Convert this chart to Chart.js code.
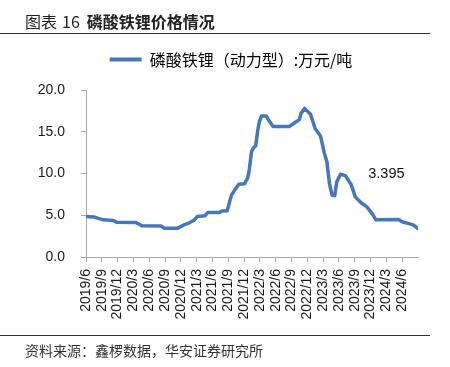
<!DOCTYPE html>
<html><head><meta charset="utf-8">
<script src="https://cdn.jsdelivr.net/npm/chart.js@4"></script>
<style>
html,body{margin:0;padding:0;background:#fff;}
#wrap{position:relative;width:450px;height:367px;overflow:hidden;background:#fff;}
#title{position:absolute;left:25px;top:11px;font-size:16px;line-height:20px;font-family:"Noto Sans CJK SC";color:#222;white-space:nowrap;}
#title .n{margin:0 7px 0 5px;}
#title b{font-weight:bold;}
.rule{position:absolute;left:0;width:430px;height:1px;background:#333;}
#src{position:absolute;left:25px;top:340px;font-size:14px;line-height:20px;font-family:"Noto Sans CJK SC";color:#333;white-space:nowrap;}
canvas{position:absolute;left:0;top:0;}
</style></head>
<body><div id="wrap">
<canvas id="c" width="450" height="367"></canvas>
<div id="title">图表<span class="n">16</span><b>磷酸铁锂价格情况</b></div>
<div class="rule" style="top:33px"></div>
<div class="rule" style="top:335px"></div>
<div id="src">资料来源：鑫椤数据，华安证券研究所</div>
</div>
<script>
// months since 2019/6
const monthIdx = [0,1.5,2.5,3.3,5.2,5.8,9.5,10.6,14.3,14.8,17.4,18.6,19.6,20.5,21.1,22.6,23.1,25.3,25.8,26.8,27.2,27.6,28.3,29.0,30.1,30.7,31.0,31.4,31.8,32.2,32.6,32.9,33.3,34.2,34.8,35.5,38.6,39.6,40.5,40.8,41.5,42.6,43.5,44.5,45.2,45.7,46.2,46.7,47.2,47.6,48.3,49.2,50.3,51.1,52.2,53.3,54.3,55.0,59.3,60.0,62.1,63.0];
const prices   = [4.85,4.8,4.6,4.45,4.38,4.15,4.12,3.75,3.7,3.45,3.45,3.85,4.1,4.4,4.85,4.95,5.32,5.32,5.52,5.55,6.5,7.4,8.1,8.72,8.78,9.5,10.5,12.6,13.1,13.3,15.2,16.2,16.88,16.9,16.25,15.64,15.64,16.08,16.45,17.2,17.8,17.1,15.35,14.5,12.5,11.44,8.8,7.4,7.35,9.04,9.92,9.75,8.7,7.2,6.5,6.0,5.2,4.45,4.5,4.22,3.84,3.395];
const tickLabels = ['2019/6','2019/9','2019/12','2020/3','2020/6','2020/9','2020/12','2021/3','2021/6','2021/9','2021/12','2022/3','2022/6','2022/9','2022/12','2023/3','2023/6','2023/9','2023/12','2024/3','2024/6'];
const seriesName = '磷酸铁锂（动力型）:万元/吨';
const lastValueText = '3.395';

const lineColor = '#4677BE';
const axisColor = '#a6a6a6';
const tickFont = {family:'"Liberation Sans", Arial, sans-serif', size:14};

const annot = {
  id:'annot',
  afterLayout(chart){
    // nudge legend to sit where the reference puts it
    chart.legend.left += 21; chart.legend.right += 21;
  },
  afterDatasetsDraw(chart){
    const {ctx, scales:{x,y}} = chart;
    ctx.save();
    ctx.font = '14.5px "Liberation Sans", Arial, sans-serif';
    ctx.fillStyle = '#111';
    ctx.textAlign = 'center';
    ctx.textBaseline = 'middle';
    ctx.fillText(lastValueText, x.getPixelForValue(57), y.getPixelForValue(10));
    ctx.restore();
  }
};

new Chart(document.getElementById('c'), {
  type:'line',
  data:{
    datasets:[{
      label: seriesName,
      data: monthIdx.map((m,i)=>({x:m, y:prices[i]})),
      borderColor: lineColor,
      backgroundColor: lineColor,
      borderWidth: 3.5,
      pointRadius: 0,
      tension: 0,
      borderJoinStyle:'round',
      borderCapStyle:'round'
    }]
  },
  options:{
    responsive:false,
    animation:false,
    layout:{padding:{left:2,right:32,top:41.5,bottom:0}},
    plugins:{
      tooltip:{enabled:false},
      legend:{
        display:true, position:'top',
        labels:{
          boxWidth:32, boxHeight:4, padding:10,
          color:'#222',
          font:{family:'"Noto Sans CJK SC"', size:16},
          generateLabels(chart){
            const ds = chart.data.datasets[0];
            return [{text:ds.label, fillStyle:ds.borderColor, strokeStyle:ds.borderColor, lineWidth:0, hidden:false, datasetIndex:0}];
          }
        }
      },
      title:{display:true, text:' ', weight:500, position:'top', font:{size:1, lineHeight:1}, padding:{top:0,bottom:11.5}}
    },
    scales:{
      x:{
        type:'linear', min:0, max:63,
        afterBuildTicks(scale){ scale.ticks = scale.ticks.filter(t=>t.value<=60 && t.value%3===0); },
        afterFit(scale){ scale.height = 110; },
        ticks:{stepSize:3, autoSkip:false, maxRotation:90, minRotation:90, padding:7, color:'#1a1a1a', font:tickFont,
          callback(v){ return tickLabels[Math.round(v/3)]; }},
        grid:{display:true, drawOnChartArea:false, drawTicks:true, tickLength:5, color:axisColor},
        border:{display:true, color:axisColor, width:1}
      },
      y:{
        min:0, max:20,
        afterFit(scale){ scale.width = 84; },
        ticks:{stepSize:5, padding:16, color:'#1a1a1a', font:tickFont, callback(v){ return v.toFixed(1); }},
        grid:{display:true, drawOnChartArea:false, drawTicks:true, tickLength:5, color:axisColor},
        border:{display:true, color:axisColor, width:1}
      }
    }
  },
  plugins:[annot]
});
</script>
</body></html>
